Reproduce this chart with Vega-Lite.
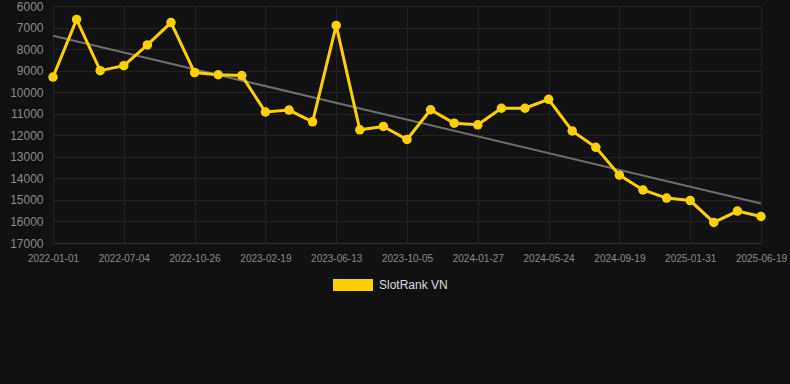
{
  "$schema": "https://vega.github.io/schema/vega-lite/v6.json",
  "width": 708,
  "height": 237,
  "autosize": {"type": "none"},
  "padding": {"left": 53, "top": 6, "right": 29, "bottom": 141},
  "background": "#111111",
  "config": {
    "view": {"stroke": null},
    "font": "Liberation Sans",
    "axis": {"gridColor": "#222222", "gridWidth": 1, "domain": false, "ticks": false}
  },
  "datasets": {
    "rank": [
      {"date": "2022-01-01", "rank": 9300},
      {"date": "2022-03-03", "rank": 6625},
      {"date": "2022-05-03", "rank": 9000},
      {"date": "2022-07-04", "rank": 8770},
      {"date": "2022-08-11", "rank": 7805},
      {"date": "2022-09-18", "rank": 6770},
      {"date": "2022-10-26", "rank": 9090},
      {"date": "2022-12-04", "rank": 9190},
      {"date": "2023-01-11", "rank": 9230},
      {"date": "2023-02-19", "rank": 10920},
      {"date": "2023-03-28", "rank": 10830},
      {"date": "2023-05-06", "rank": 11375},
      {"date": "2023-06-13", "rank": 6900},
      {"date": "2023-07-21", "rank": 11745},
      {"date": "2023-08-28", "rank": 11590},
      {"date": "2023-10-05", "rank": 12195},
      {"date": "2023-11-12", "rank": 10815},
      {"date": "2023-12-20", "rank": 11440},
      {"date": "2024-01-27", "rank": 11515},
      {"date": "2024-03-05", "rank": 10745},
      {"date": "2024-04-14", "rank": 10745},
      {"date": "2024-05-24", "rank": 10330},
      {"date": "2024-07-02", "rank": 11800},
      {"date": "2024-08-10", "rank": 12560},
      {"date": "2024-09-19", "rank": 13850},
      {"date": "2024-11-02", "rank": 14540},
      {"date": "2024-12-17", "rank": 14915},
      {"date": "2025-01-31", "rank": 15030},
      {"date": "2025-03-17", "rank": 16045},
      {"date": "2025-05-03", "rank": 15520},
      {"date": "2025-06-19", "rank": 15770}
    ],
    "trend": [
      {"date": "2022-01-01", "rank": 7380},
      {"date": "2025-06-19", "rank": 15170}
    ]
  },
  "encoding": {
    "x": {
      "field": "date",
      "type": "ordinal",
      "scale": {"type": "point", "padding": 0},
      "axis": {
        "title": null,
        "labelAngle": 0,
        "values": ["2022-01-01", "2022-07-04", "2022-10-26", "2023-02-19", "2023-06-13", "2023-10-05", "2024-01-27", "2024-05-24", "2024-09-19", "2025-01-31", "2025-06-19"],
        "labelColor": "#8a8a8a",
        "labelFontSize": 10,
        "labelPadding": 10,
        "grid": true,
        "domain": true,
        "domainColor": "#2e2e2e"
      }
    },
    "y": {
      "field": "rank",
      "type": "quantitative",
      "scale": {"domain": [6000, 17000], "reverse": true, "nice": false, "zero": false},
      "axis": {
        "title": null,
        "format": "d",
        "values": [6000, 7000, 8000, 9000, 10000, 11000, 12000, 13000, 14000, 15000, 16000, 17000],
        "labelColor": "#8a8a8a",
        "labelFontSize": 12,
        "labelPadding": 10,
        "grid": true
      }
    }
  },
  "layer": [
    {
      "data": {"name": "trend"},
      "mark": {"type": "line", "color": "#6e6e6e", "strokeWidth": 2},
      "encoding": {}
    },
    {
      "data": {"name": "rank"},
      "mark": {"type": "line", "strokeWidth": 3, "point": {"filled": true, "size": 90}},
      "encoding": {
        "color": {
          "datum": "SlotRank VN",
          "type": "nominal",
          "scale": {"range": ["#ffd000"]},
          "legend": {
            "title": null,
            "orient": "none",
            "legendX": 280,
            "legendY": 259,
            "symbolType": "M-1,-0.3H1V0.3H-1Z",
            "symbolSize": 1600,
            "symbolStrokeWidth": 0,
            "symbolFillColor": "#ffd000",
            "labelColor": "#dddddd",
            "labelFontSize": 12,
            "labelOffset": 6
          }
        }
      }
    }
  ]
}
